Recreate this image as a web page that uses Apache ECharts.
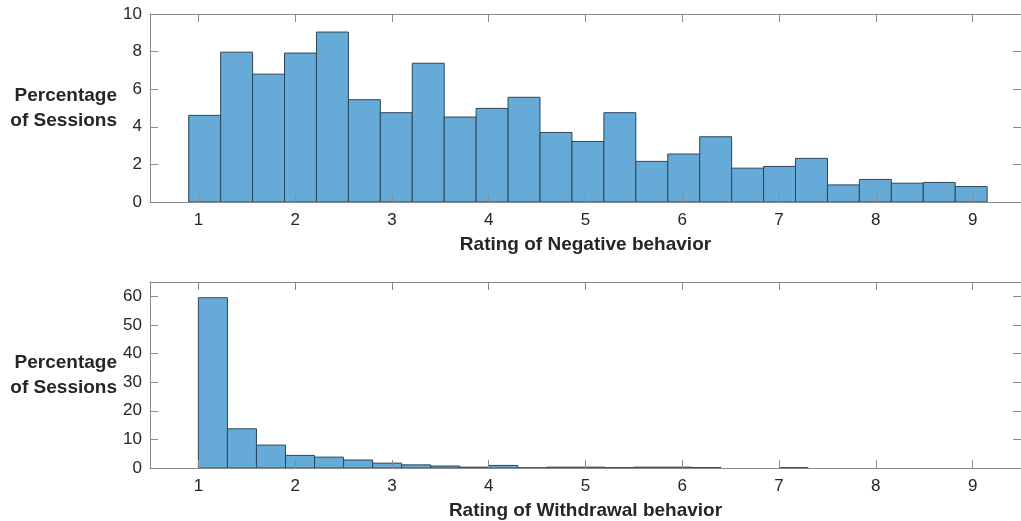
<!DOCTYPE html>
<html>
<head>
<meta charset="utf-8">
<script src="https://cdn.jsdelivr.net/npm/echarts@6/dist/echarts.min.js"></script>
<style>html,body{margin:0;padding:0;background:#fff;}#c{width:1021px;height:521px;}</style>
</head>
<body>
<div id="c"></div>
<script>
// ---- data ----
const xTicks = [1, 2, 3, 4, 5, 6, 7, 8, 9];
const negEdges = [0.9, 1.23, 1.56, 1.89, 2.22, 2.55, 2.88, 3.21, 3.54, 3.87, 4.2, 4.53, 4.86, 5.19, 5.52, 5.85, 6.18, 6.51, 6.84, 7.17, 7.5, 7.83, 8.16, 8.49, 8.82, 9.15];
const negValues = [4.61, 7.97, 6.80, 7.92, 9.04, 5.44, 4.75, 7.38, 4.52, 4.98, 5.57, 3.70, 3.22, 4.75, 2.16, 2.55, 3.47, 1.80, 1.89, 2.32, 0.91, 1.20, 1.00, 1.04, 0.82];
const wdEdges = [1.0, 1.3, 1.6, 1.9, 2.2, 2.5, 2.8, 3.1, 3.4, 3.7, 4.0, 4.3, 4.6, 4.9, 5.2, 5.5, 5.8, 6.1, 6.4, 6.7, 7.0, 7.3, 7.6, 7.9, 8.2, 8.5, 8.8, 9.1];
const wdValues = [59.5, 13.7, 8.0, 4.4, 3.8, 2.8, 1.7, 1.1, 0.7, 0.3, 0.9, 0.05, 0.3, 0.3, 0.1, 0.3, 0.3, 0.15, 0, 0, 0.1, 0, 0, 0, 0, 0, 0];
const negTitle = 'Rating of Negative behavior';
const wdTitle = 'Rating of Withdrawal behavior';
const yTitle = 'Percentage\nof Sessions';

const FONT = "'Liberation Sans', Arial, Helvetica, sans-serif";
const AXC = '#8a8a8a';
const TXT = '#262626';

function toBins(edges, vals) { return vals.map((v, i) => [edges[i], edges[i + 1], v]); }

function renderItem(params, api) {
  const x0 = api.value(0), x1 = api.value(1), y = api.value(2);
  if (!y) return null;
  const p0 = api.coord([x0, y]);
  const p1 = api.coord([x1, 0]);
  return {
    type: 'rect',
    shape: { x: p0[0], y: p0[1], width: p1[0] - p0[0], height: p1[1] - p0[1] },
    style: { fill: '#66aad7', stroke: '#2c465a', lineWidth: 1 }
  };
}

function xAx(grid, pos, title) {
  return {
    type: 'value', gridIndex: grid, position: pos, min: 0.5, max: 9.5, z: 5,
    splitLine: { show: false },
    axisLine: { show: true, onZero: false, lineStyle: { color: AXC, width: 1 } },
    axisTick: { show: true, inside: true, length: 8, customValues: xTicks, lineStyle: { color: AXC } },
    axisLabel: { show: pos === 'bottom', customValues: xTicks, margin: 10, fontFamily: FONT, fontSize: 17, color: TXT },
    name: pos === 'bottom' ? title : '', nameLocation: 'middle', nameGap: 33,
    nameTextStyle: { fontFamily: FONT, fontSize: 19, fontWeight: 'bold', color: TXT }
  };
}
function yAx(grid, pos, max, interval, pad) {
  return {
    type: 'value', gridIndex: grid, position: pos, min: 0, max: max, interval: interval, z: 5,
    splitLine: { show: false },
    axisLine: { show: true, onZero: false, lineStyle: { color: AXC, width: 1 } },
    axisTick: { show: true, inside: true, length: 8, lineStyle: { color: AXC } },
    axisLabel: { show: pos === 'left', showMaxLabel: max % interval === 0, margin: 8, fontFamily: FONT, fontSize: 17, color: TXT },
    name: pos === 'left' ? yTitle : '', nameLocation: 'middle', nameRotate: 0, nameGap: 33,
    nameTextStyle: { fontFamily: FONT, fontSize: 19, fontWeight: 'bold', color: TXT, lineHeight: 25, align: 'right', padding: [pad, 0, 0, 0] }
  };
}

const chart = echarts.init(document.getElementById('c'), null, { renderer: 'canvas' });
chart.setOption({
  animation: false,
  backgroundColor: '#ffffff',
  grid: [
    { left: 150, right: -8, top: 14, height: 188 },
    { left: 150, right: -8, top: 282, height: 187 }
  ],
  xAxis: [xAx(0, 'bottom', negTitle), xAx(0, 'top', ''), xAx(1, 'bottom', wdTitle), xAx(1, 'top', '')],
  yAxis: [yAx(0, 'left', 10, 2, 2), yAx(0, 'right', 10, 2, 0), yAx(1, 'left', 65, 10, 10), yAx(1, 'right', 65, 10, 0)],
  series: [
    { type: 'custom', xAxisIndex: 0, yAxisIndex: 0, renderItem: renderItem, encode: { x: [0, 1], y: 2 }, data: toBins(negEdges, negValues) },
    { type: 'custom', xAxisIndex: 2, yAxisIndex: 2, renderItem: renderItem, encode: { x: [0, 1], y: 2 }, data: toBins(wdEdges, wdValues) }
  ]
});
</script>
</body>
</html>
